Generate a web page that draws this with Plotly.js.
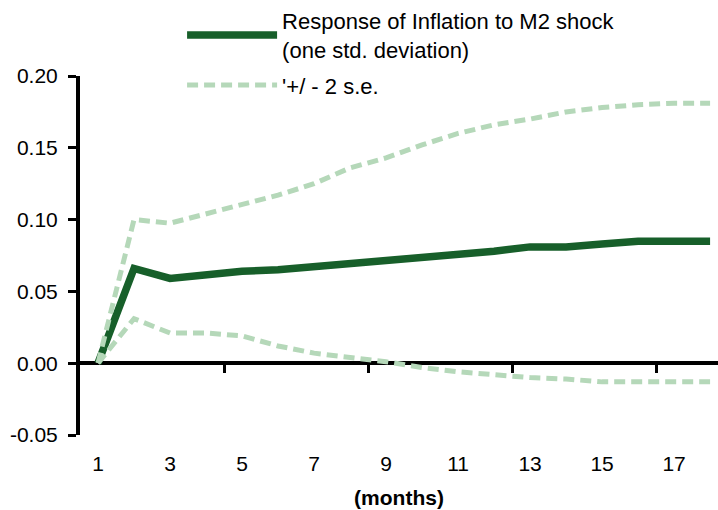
<!DOCTYPE html>
<html>
<head>
<meta charset="utf-8">
<script src="https://cdn.plot.ly/plotly-3.0.1.min.js"></script>
<style>html,body{margin:0;padding:0;background:#fff;}#chart{width:718px;height:510px;}</style>
</head>
<body>
<div id="chart"></div>
<script>
// months 1..18
var months = [1,2,3,4,5,6,7,8,9,10,11,12,13,14,15,16,17,18];
var response = [0, 0.066, 0.059, 0.062, 0.064, 0.065, 0.067, 0.069, 0.072, 0.074, 0.076, 0.078, 0.081, 0.081, 0.083, 0.085, 0.085, 0.085];
var upperBand = [0, 0.100, 0.0975, 0.104, 0.111, 0.117, 0.125, 0.136, 0.143, 0.152, 0.160, 0.166, 0.170, 0.175, 0.178, 0.180, 0.181, 0.181];
var lowerBand = [0, 0.031, 0.021, 0.021, 0.019, 0.012, 0.007, 0.004, 0.001, -0.003, -0.006, -0.008, -0.010, -0.011, -0.013, -0.013, -0.013, -0.013];
var xTickVals = [1,3,5,7,9,11,13,15,17];
var xTickText = ['1','3','5','7','9','11','13','15','17'];
var xMarkVals = [4.5, 8.5, 12.5, 16.5];
var yTickVals = [-0.05, 0, 0.05, 0.10, 0.15, 0.20];
var yTickText = ['-0.05','0.00','0.05','0.10','0.15','0.20'];

var dark = '#175f2a';
var light = '#b5d8b9';
var FONT = 'Liberation Sans, Arial, sans-serif';
var XR = [0.5, 18.22];

var traces = [
  {x: months, y: response, type: 'scatter', mode: 'lines', name: 'Response of Inflation to M2 shock<br>(one std. deviation)',
   line: {color: dark, width: 7.5}, legendgroup: 'a'},
  {x: months, y: upperBand, type: 'scatter', mode: 'lines', name: "'+/ - 2 s.e.",
   line: {color: light, width: 5, dash: '11px,6px'}, legendgroup: 'b'},
  {x: months, y: lowerBand, type: 'scatter', mode: 'lines', name: "'+/ - 2 s.e.", showlegend: false,
   line: {color: light, width: 5, dash: '11px,6px'}, legendgroup: 'b'},
  // transparent carrier so the zero-crossing axis (x2) gets drawn
  {x: months, y: response, xaxis: 'x2', yaxis: 'y', type: 'scatter', mode: 'lines', showlegend: false,
   hoverinfo: 'skip', opacity: 0, line: {width: 0}}
];

var layout = {
  width: 718, height: 510,
  margin: {l: 80, r: 0, t: 75, b: 75, pad: 0},
  paper_bgcolor: '#fff', plot_bgcolor: '#fff',
  font: {family: FONT, size: 21, color: '#000'},
  showlegend: true,
  legend: {x: 0.16, y: 1.212, xanchor: 'left', yanchor: 'top', bgcolor: 'rgba(0,0,0,0)',
           font: {family: FONT, size: 22, color: '#000'}, itemwidth: 90, tracegroupgap: 4},
  xaxis: {range: XR, anchor: 'y', side: 'bottom', showline: false, showgrid: false, zeroline: false,
          ticks: '', tickmode: 'array', tickvals: xTickVals, ticktext: xTickText, ticklabelstandoff: 14,
          tickfont: {family: FONT, size: 21},
          title: {text: '<b>(months)</b>', font: {family: FONT, size: 21}, standoff: 16}},
  xaxis2: {overlaying: 'x', range: XR, anchor: 'free', position: 0.2, side: 'bottom', layer: 'below traces',
           showline: true, linewidth: 4, linecolor: '#000',
           showgrid: false, zeroline: false, ticks: 'outside', ticklen: 8, tickwidth: 3, tickcolor: '#000',
           tickmode: 'array', tickvals: xMarkVals, showticklabels: false},
  yaxis: {range: [-0.05, 0.20], showline: true, linewidth: 4, linecolor: '#000', showgrid: false, zeroline: false,
          ticks: 'outside', ticklen: 8, tickwidth: 3, tickcolor: '#000', tickmode: 'array', ticklabelstandoff: 6,
          tickvals: yTickVals, ticktext: yTickText, tickfont: {family: FONT, size: 21}}
};

Plotly.newPlot('chart', traces, layout, {displayModeBar: false, staticPlot: true});
</script>
</body>
</html>
